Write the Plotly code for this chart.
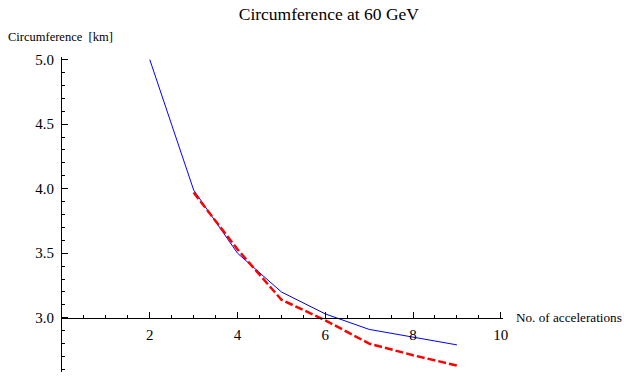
import plotly.graph_objects as go

x_blue = [2, 3, 4, 5, 6, 7, 8, 9]
y_blue = [5.0, 3.99, 3.5, 3.2, 3.03, 2.91, 2.85, 2.79]
x_red = [3, 4, 5, 6, 7, 8, 9]
y_red = [3.97, 3.53, 3.14, 2.98, 2.80, 2.71, 2.63]

x_ticks = [2, 4, 6, 8, 10]
y_ticks = [3.0, 3.5, 4.0, 4.5, 5.0]

YMIN, YMAX = 2.58, 5.02
XMIN, XMAX = 0, 10.05
FONT = "Liberation Serif, Times New Roman, serif"

fig = go.Figure()
fig.add_trace(go.Scatter(x=x_blue, y=y_blue, mode="lines",
                         line=dict(color="#0000ff", width=1)))
fig.add_trace(go.Scatter(x=x_red, y=y_red, mode="lines",
                         line=dict(color="#ff0000", width=2.5, dash="8px,3px")))

fig.update_layout(
    width=624, height=378,
    margin=dict(l=62, r=121, t=57, b=6),
    paper_bgcolor="white", plot_bgcolor="white",
    showlegend=False,
    font=dict(family=FONT, color="black", size=15),
    title=dict(text="Circumference at 60 GeV", x=0.527, xanchor="center",
               y=0.962, yanchor="middle", font=dict(family=FONT, size=17.5, color="black")),
    xaxis=dict(range=[XMIN, XMAX], showgrid=False, zeroline=False,
               showline=True, linecolor="black", linewidth=1,
               anchor="free", position=(3.0 - YMIN) / (YMAX - YMIN),
               tickvals=x_ticks, ticks="inside", ticklen=6, tickcolor="black",
               ticklabelstandoff=3,
               tickfont=dict(family=FONT, size=15),
               minor=dict(dtick=0.5, tick0=0, ticks="inside", ticklen=3, tickcolor="black")),
    yaxis=dict(range=[YMIN, YMAX], showgrid=False, zeroline=False,
               showline=True, linecolor="black", linewidth=1,
               tickvals=y_ticks, ticktext=["3.0", "3.5", "4.0", "4.5", "5.0"],
               ticks="inside", ticklen=6, tickcolor="black",
               ticklabelstandoff=4,
               tickfont=dict(family=FONT, size=15),
               minor=dict(dtick=0.1, tick0=0, ticks="inside", ticklen=3, tickcolor="black")),
    annotations=[
        dict(text="Circumference  [km]", xref="paper", yref="paper",
             x=-56/441, y=1.0 + 20/315, xanchor="left", yanchor="middle",
             showarrow=False, font=dict(family=FONT, size=12.5)),
        dict(text="No. of accelerations", xref="paper", yref="y",
             x=1.025, y=3.0, xanchor="left", yanchor="middle",
             showarrow=False, font=dict(family=FONT, size=13.2)),
    ],
)

fig.write_html("out.html")
